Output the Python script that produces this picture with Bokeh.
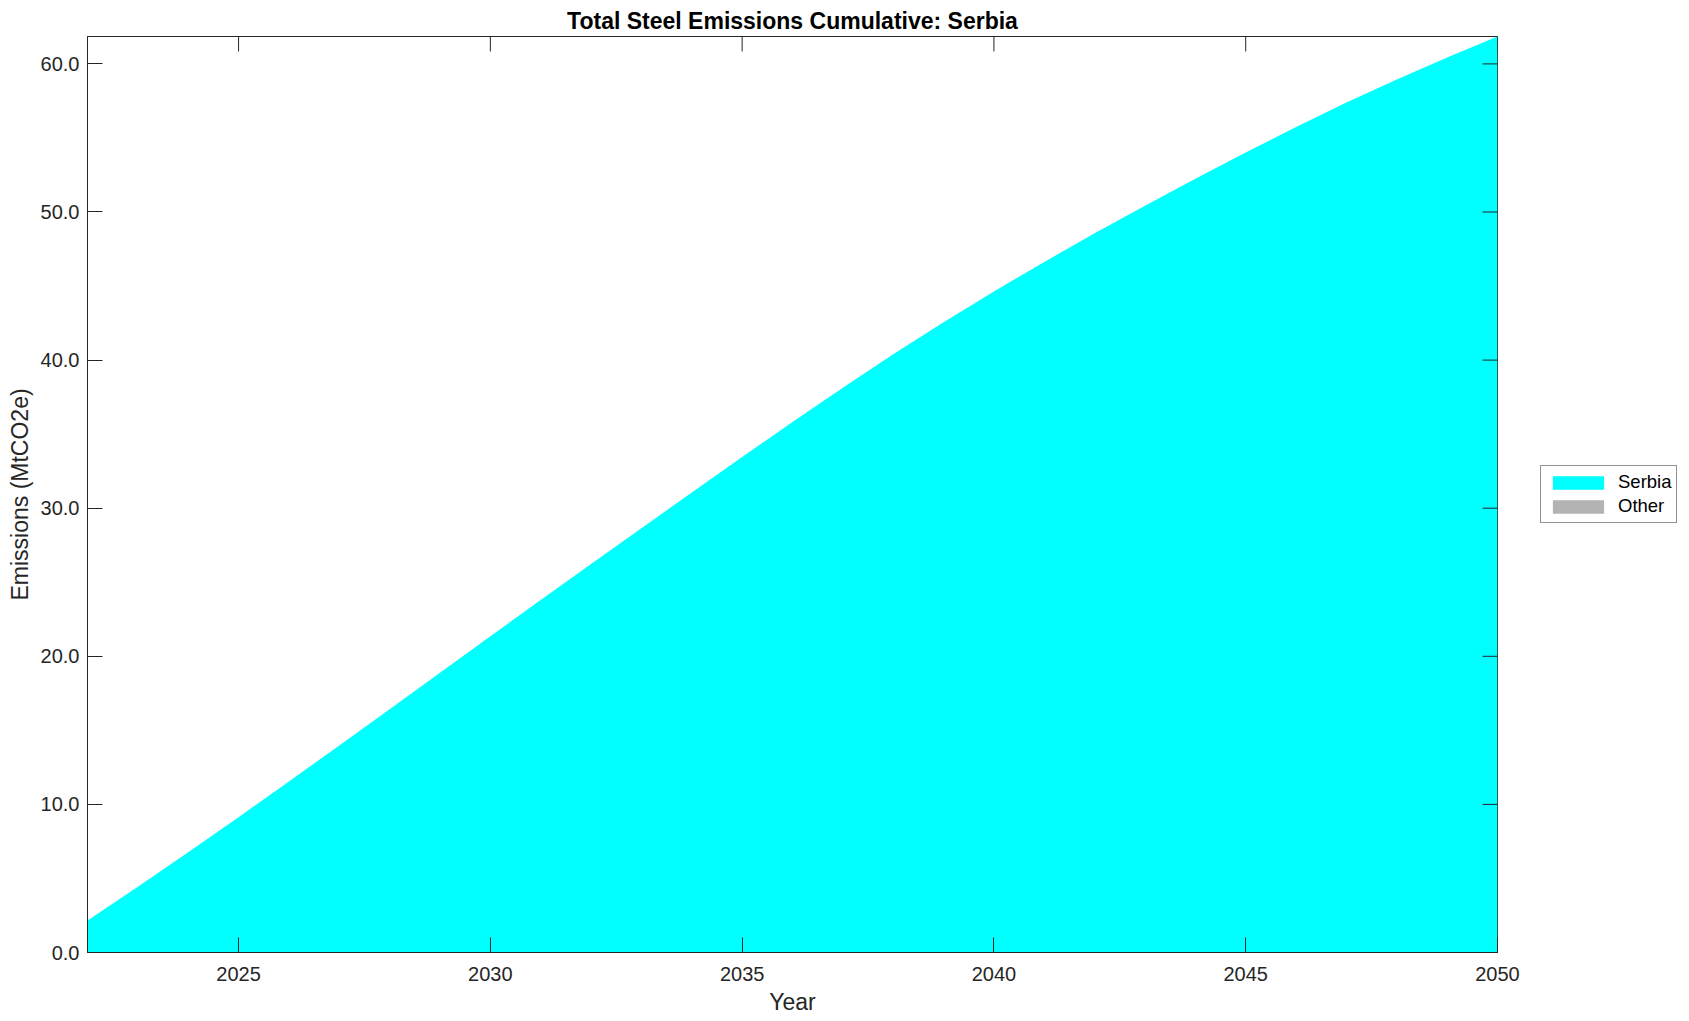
import math
from bokeh.plotting import figure
from bokeh.models import (ColumnDataSource, FixedTicker, Legend,
                          LegendItem, NumeralTickFormatter, Range1d)
from bokeh.embed import file_html
from bokeh.resources import INLINE

# ---- data ----
years = list(range(2022, 2051))
serbia = [2.16, 4.44, 6.77, 9.14, 11.55, 13.98, 16.43, 18.89, 21.35, 23.80,
          26.23, 28.65, 31.06, 33.45, 35.82, 38.14, 40.39, 42.55, 44.63, 46.63,
          48.56, 50.43, 52.25, 54.02, 55.74, 57.39, 58.95, 60.43, 61.85]
other = [0.0, 0.0, 0.0, 0.0, 0.0, 0.0, 0.0, 0.0, 0.0, 0.0,
         0.0, 0.0, 0.0, 0.0, 0.0, 0.0, 0.0, 0.0, 0.0, 0.0,
         0.0, 0.0, 0.0, 0.0, 0.0, 0.0, 0.0, 0.0, 0.0]
series_names = ["Serbia", "Other"]
series_colors = ["#00ffff", "#b3b3b3"]
x_ticks = [2025, 2030, 2035, 2040, 2045, 2050]
y_ticks = [0, 10, 20, 30, 40, 50, 60]

FONT = "Liberation Sans"
TXT = "#262626"

src = ColumnDataSource(dict(year=years, serbia=serbia, other=other))
x_end = years[-1]
y_end = serbia[-1] + other[-1]

p = figure(frame_width=1410, frame_height=916,
           x_range=Range1d(years[0], x_end),
           y_range=Range1d(0, y_end),
           output_backend="svg", toolbar_location=None,
           min_border_left=87, min_border_right=0,
           min_border_top=36, min_border_bottom=68,
           title="Total Steel Emissions Cumulative: Serbia")

p.title.align = "center"
p.title.text_font = FONT
p.title.text_font_size = "23px"
p.title.text_font_style = "bold"
p.title.text_color = "#000000"
p.title.standoff = 5

p.xgrid.visible = False
p.ygrid.visible = False
p.outline_line_color = TXT
p.outline_line_width = 1
p.background_fill_color = "white"
p.border_fill_color = "white"

renderers = p.varea_stack(["serbia", "other"], x="year",
                          color=series_colors, source=src)

for ax, ticks in ((p.xaxis[0], x_ticks), (p.yaxis[0], y_ticks)):
    ax.ticker = FixedTicker(ticks=ticks)
    ax.minor_tick_line_color = None
    ax.major_tick_in = 15
    ax.major_tick_out = 0
    ax.major_tick_line_color = TXT
    ax.axis_line_color = TXT
    ax.major_label_text_font = FONT
    ax.major_label_text_color = TXT
    ax.major_label_text_font_size = "20px"
    ax.axis_label_text_font = FONT
    ax.axis_label_text_font_size = "23px"
    ax.axis_label_text_font_style = "normal"
    ax.axis_label_text_color = TXT

p.yaxis[0].formatter = NumeralTickFormatter(format="0.0")
p.xaxis[0].major_label_standoff = 14
p.yaxis[0].major_label_standoff = 8
p.xaxis[0].axis_label = "Year"
p.yaxis[0].axis_label = "Emissions (MtCO2e)"
p.xaxis[0].axis_label_standoff = 5
p.yaxis[0].axis_label_standoff = 5

# mirrored inward ticks on the top and right edges of the box
p.scatter(x=x_ticks, y=[y_end] * len(x_ticks), marker="dash", size=30,
          angle=math.pi / 2, line_color=TXT, line_width=1)
p.scatter(x=[x_end] * len(y_ticks), y=y_ticks, marker="dash", size=30,
          line_color=TXT, line_width=1)

legend = Legend(items=[LegendItem(label=n, renderers=[r])
                       for n, r in zip(series_names, renderers)],
                location="center_left", margin=43, padding=5, spacing=2,
                glyph_width=64, glyph_height=17, label_height=17,
                label_standoff=8, label_text_font=FONT,
                label_text_font_size="18.5px", label_text_color="#000000",
                border_line_color=TXT, border_line_width=1,
                background_fill_color="white", background_fill_alpha=1.0)
p.add_layout(legend, "right")

open("out.html", "w").write(file_html(p, INLINE))
